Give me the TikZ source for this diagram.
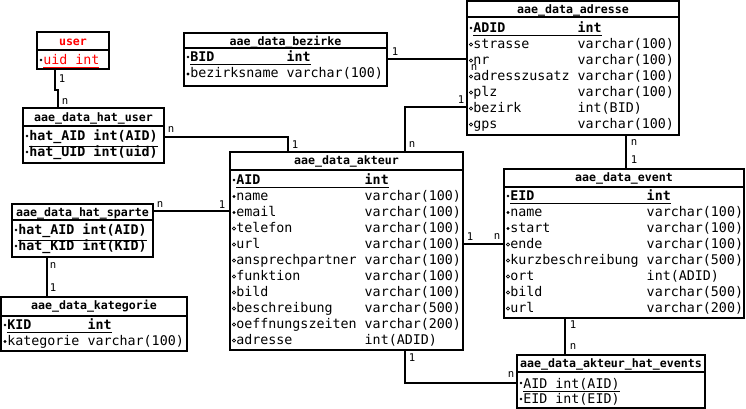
\documentclass[tikz,border=0pt]{standalone}
\usepackage{fontspec}
\setmainfont{DejaVu Sans Mono}
\newdimen\cwd \cwd=6.0205pt
\newcommand\fldrow[3]{\makebox[#1\cwd][l]{#2}#3}
\newcommand\keyrow[3]{\underline{\makebox[#1\cwd][l]{\textbf{#2}}\textbf{#3}}}
\newcommand\tbl[6]{%
  \node[tbox, minimum width={(#4-#2)*0.75pt}, minimum height={(#5-#3)*0.75pt}] (#1) at (#2,#3) {};
  \draw[hline] (#1.west |- 0,#6) -- (#1.east |- 0,#6);}
\begin{document}
\begin{tikzpicture}[x=0.75pt,y=-0.75pt,
  tbox/.style={draw, line width=1.5pt, inner sep=0pt, outer sep=0pt, anchor=north west},
  hline/.style={line width=1.5pt},
  ttl/.style={anchor=base, inner sep=0pt, font=\fontsize{8.7}{10}\selectfont\bfseries},
  fld/.style={anchor=base west, inner sep=0pt, font=\fontsize{10}{12}\selectfont},
  lbl/.style={inner sep=0pt, font=\fontsize{8}{9}\selectfont},
  conn/.style={line width=1.5pt},
  bulf/.style={fill=black},
  bulo/.style={draw=black, fill=white, line width=0.6pt},
  bulk/.style={fill=black}]
\useasboundingbox (0,0) rectangle (746,409);

% ---------- user
\tbl{user}{37}{32}{109}{69}{50}
\node[ttl, text=red] (user-t) at (73,45.5) {user};
\node[fld, text=red] (user-1) at (43,65) {\underline{uid int}};
\path[bulk] (41,60) circle[radius=1pt];

% ---------- hat_user
\tbl{hatuser}{23}{108}{164}{163}{126}
\node[ttl] (hatuser-t) at (93.5,121.5) {aae\_data\_hat\_user};
\node[fld] (hatuser-1) at (29,141) {\underline{\textbf{hat\_AID int(AID)}}};
\node[fld] (hatuser-2) at (29,157) {\underline{\textbf{hat\_UID int(uid)}}};
\path[bulk] (27,136) circle[radius=1pt];
\path[bulk] (27,152) circle[radius=1pt];

% ---------- bezirke
\tbl{bezirke}{184}{33}{387}{86}{48}
\node[ttl] (bezirke-t) at (285.5,45.5) {aae\_data\_bezirke};
\node[fld] (bezirke-1) at (190,62) {\keyrow{12}{BID}{int}};
\node[fld] (bezirke-2) at (190,78) {\fldrow{12}{bezirksname}{varchar(100)}};
\path[bulk] (188,57) circle[radius=1pt];
\path[bulf] (188,74) circle[radius=1.2pt];

% ---------- adresse
\tbl{adresse}{467}{1}{679}{135}{17}
\node[ttl] (adresse-t) at (573,13.5) {aae\_data\_adresse};
\node[fld] (adresse-0) at (473,33) {\keyrow{13}{ADID}{int}};
\path[bulk] (471,28) circle[radius=1pt];
\foreach [count=\i] \bt/\nm/\ty in {o/strasse/varchar(100), o/nr/varchar(100),
   o/adresszusatz/varchar(100), o/plz/varchar(100), o/bezirk/int(BID), o/gps/varchar(100)}{
  \node[fld] (adresse-\i) at (473,33+16*\i) {\fldrow{13}{\nm}{\ty}};
  \path[bul\bt] (471,28.5+16*\i) circle[radius=1.2pt];}

% ---------- akteur
\tbl{akteur}{230}{152}{463}{350}{170}
\node[ttl] (akteur-t) at (346.5,165) {aae\_data\_akteur};
\node[fld] (akteur-0) at (236,185) {\keyrow{16}{AID}{int}};
\path[bulk] (234,180) circle[radius=1pt];
\foreach [count=\i] \bt/\nm/\ty in {f/name/varchar(100), f/email/varchar(100),
   o/telefon/varchar(100), o/url/varchar(100), o/ansprechpartner/varchar(100),
   o/funktion/varchar(100), o/bild/varchar(100), o/beschreibung/varchar(500),
   o/oeffnungszeiten/varchar(200), o/adresse/int(ADID)}{
  \node[fld] (akteur-\i) at (236,185+16*\i) {\fldrow{16}{\nm}{\ty}};
  \path[bul\bt] (234,180.5+16*\i) circle[radius=1.2pt];}

% ---------- event
\tbl{event}{504}{169}{744}{318}{187}
\node[ttl] (event-t) at (624,182) {aae\_data\_event};
\node[fld] (event-0) at (510,201) {\keyrow{17}{EID}{int}};
\path[bulk] (508,196) circle[radius=1pt];
\foreach [count=\i] \bt/\nm/\ty in {f/name/varchar(100), f/start/varchar(100),
   o/ende/varchar(100), o/kurzbeschreibung/varchar(500), o/ort/int(ADID),
   o/bild/varchar(500), o/url/varchar(200)}{
  \node[fld] (event-\i) at (510,201+16*\i) {\fldrow{17}{\nm}{\ty}};
  \path[bul\bt] (508,196.5+16*\i) circle[radius=1.2pt];}

% ---------- hat_sparte
\tbl{hatsparte}{12}{204}{153}{257}{220}
\node[ttl] (hatsparte-t) at (82.5,217) {aae\_data\_hat\_sparte};
\node[fld] (hatsparte-1) at (18,235) {\underline{\textbf{hat\_AID int(AID)}}};
\node[fld] (hatsparte-2) at (18,251) {\underline{\textbf{hat\_KID int(KID)}}};
\path[bulk] (16,230) circle[radius=1pt];
\path[bulk] (16,246) circle[radius=1pt];

% ---------- kategorie
\tbl{kategorie}{1}{297}{187}{351}{316}
\node[ttl] (kategorie-t) at (94,310) {aae\_data\_kategorie};
\node[fld] (kategorie-1) at (7,330) {\keyrow{10}{KID}{int}};
\node[fld] (kategorie-2) at (7,346) {\fldrow{10}{kategorie}{varchar(100)}};
\path[bulk] (5,325) circle[radius=1pt];
\path[bulf] (5,341.5) circle[radius=1.2pt];

% ---------- akteur_hat_events
\tbl{hatevents}{517}{355}{705}{408}{372}
\node[ttl] (hatevents-t) at (611,368) {aae\_data\_akteur\_hat\_events};
\node[fld] (hatevents-1) at (523,388) {\underline{AID int(AID)}};
\node[fld] (hatevents-2) at (523,404) {\underline{EID int(EID)}};
\path[bulk] (521,383) circle[radius=1pt];
\path[bulk] (521,399) circle[radius=1pt];

% ---------- connectors
\draw[conn] (user.south -| 55,0) -- (55,90) -- (58,90) -- (hatuser.north -| 58,0);
\draw[conn] (hatuser.east |- 0,137) -- (288,137) -- (akteur.north -| 288,0);
\draw[conn] (hatsparte.east |- 0,211) -- (akteur.west |- 0,211);
\draw[conn] (hatsparte.south -| 47,0) -- (kategorie.north -| 47,0);
\draw[conn] (bezirke.east |- 0,59) -- (adresse.west |- 0,59);
\draw[conn] (akteur.north -| 405,0) -- (405,107) -- (adresse.west |- 0,107);
\draw[conn] (adresse.south -| 626,0) -- (event.north -| 626,0);
\draw[conn] (akteur.east |- 0,244) -- (event.west |- 0,244);
\draw[conn] (event.south -| 565,0) -- (hatevents.north -| 565,0);
\draw[conn] (akteur.south -| 405,0) -- (405,383) -- (hatevents.west |- 0,383);

% ---------- cardinality labels
\node[lbl] (c1) at (62,79) {1};
\node[lbl] (c2) at (65,102) {n};
\node[lbl] (c3) at (171,130) {n};
\node[lbl] (c4) at (295,145) {1};
\node[lbl] (c5) at (160,205) {n};
\node[lbl] (c6) at (222,205) {1};
\node[lbl] (c7) at (53,266) {n};
\node[lbl] (c8) at (53,288) {1};
\node[lbl] (c9) at (395,52) {1};
\node[lbl] (c10) at (474,68) {n};
\node[lbl] (c11) at (412,145) {n};
\node[lbl] (c12) at (461,100) {1};
\node[lbl] (c13) at (634,143) {n};
\node[lbl] (c14) at (634,160) {1};
\node[lbl] (c15) at (470,237) {1};
\node[lbl] (c16) at (497,237) {n};
\node[lbl] (c17) at (573,325) {1};
\node[lbl] (c18) at (573,347) {n};
\node[lbl] (c19) at (412,358) {1};
\node[lbl] (c20) at (511,375) {n};
\end{tikzpicture}
\end{document}
